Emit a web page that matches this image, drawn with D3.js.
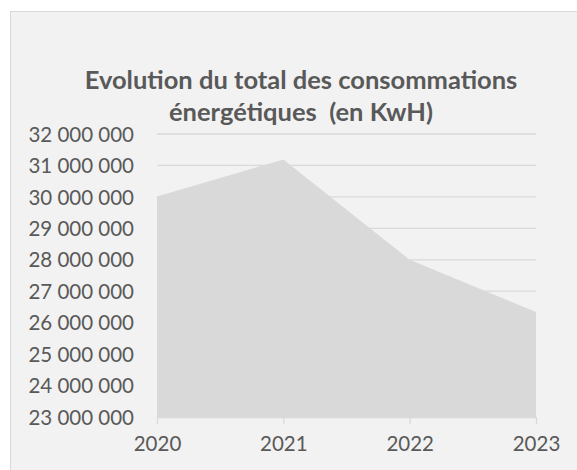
<!DOCTYPE html>
<html>
<head>
<meta charset="utf-8">
<script src="https://cdn.jsdelivr.net/npm/d3@7"></script>
<style>
  body { margin: 0; background: #fff; }
  .chart { width: 577px; height: 470px; }
  text { font-family: Lato, "Open Sans", sans-serif; fill: #595959; }
</style>
</head>
<body>
<div class="chart"></div>
<script>
var years = ["2020", "2021", "2022", "2023"];
var totals = [30010000, 31190000, 28000000, 26340000];
var yTicks = [23000000, 24000000, 25000000, 26000000, 27000000, 28000000, 29000000, 30000000, 31000000, 32000000];
var titleLines = ["Evolution du total des consommations", "énergétiques  (en KwH)"];

var margin = { top: 134, right: 41, bottom: 53, left: 157 },
    width = 577 - margin.left - margin.right,
    height = 470 - margin.top - margin.bottom;

var fr = d3.formatLocale({ decimal: ",", thousands: " ", grouping: [3], currency: ["", " €"] });
var fmt = fr.format(",d");

var data = years.map(function(y, i) { return { year: y, value: totals[i] }; });

var root = d3.select(".chart").append("svg")
    .attr("width", 577)
    .attr("height", 470);

// chart frame (cropped on right and bottom)
root.append("rect")
    .attr("x", 10.5).attr("y", 11.5)
    .attr("width", 600).attr("height", 500)
    .attr("fill", "#f2f2f2")
    .attr("stroke", "#d9d9d9");

root.selectAll(".title")
    .data(titleLines)
    .enter().append("text")
    .attr("class", "title")
    .attr("x", 301)
    .attr("y", function(d, i) { return 89 + i * 32; })
    .attr("text-anchor", "middle")
    .style("font-size", "25.5px")
    .style("font-weight", "bold")
    .style("white-space", "pre")
    .text(function(d) { return d; });

var svg = root.append("g")
    .attr("transform", "translate(" + margin.left + "," + margin.top + ")");

var x = d3.scalePoint().domain(years).range([0, width]);
var y = d3.scaleLinear().domain([23000000, 32000000]).range([height, 0]);

svg.append("g")
    .attr("class", "grid")
    .selectAll("line")
    .data(yTicks.slice(1))
    .enter().append("line")
    .attr("x1", 0).attr("x2", width)
    .attr("y1", function(d) { return y(d); })
    .attr("y2", function(d) { return y(d); })
    .attr("stroke", "#d9d9d9")
    .attr("stroke-width", 1.3);

var area = d3.area()
    .x(function(d) { return x(d.year); })
    .y0(y(23000000))
    .y1(function(d) { return y(d.value); });

svg.append("path")
    .datum(data)
    .attr("d", area)
    .attr("fill", "#d9d9d9");

var yAxis = d3.axisLeft(y).tickValues(yTicks).tickFormat(fmt).tickSize(0).tickPadding(23);
svg.append("g")
    .attr("class", "y axis")
    .call(yAxis)
    .call(function(g) { g.select(".domain").remove(); })
    .selectAll("text")
    .style("font-size", "20.5px")
    .attr("dy", "0.35em");

var xAxis = d3.axisBottom(x).tickSize(7).tickPadding(12).tickSizeOuter(0);
var xg = svg.append("g")
    .attr("class", "x axis")
    .attr("transform", "translate(0," + height + ")")
    .call(xAxis);
xg.select(".domain").attr("stroke", "#d9d9d9").attr("stroke-width", 1.3);
xg.selectAll(".tick line").attr("stroke", "#d9d9d9").attr("stroke-width", 1.3);
xg.selectAll("text").style("font-size", "20.5px");
</script>
</body>
</html>
